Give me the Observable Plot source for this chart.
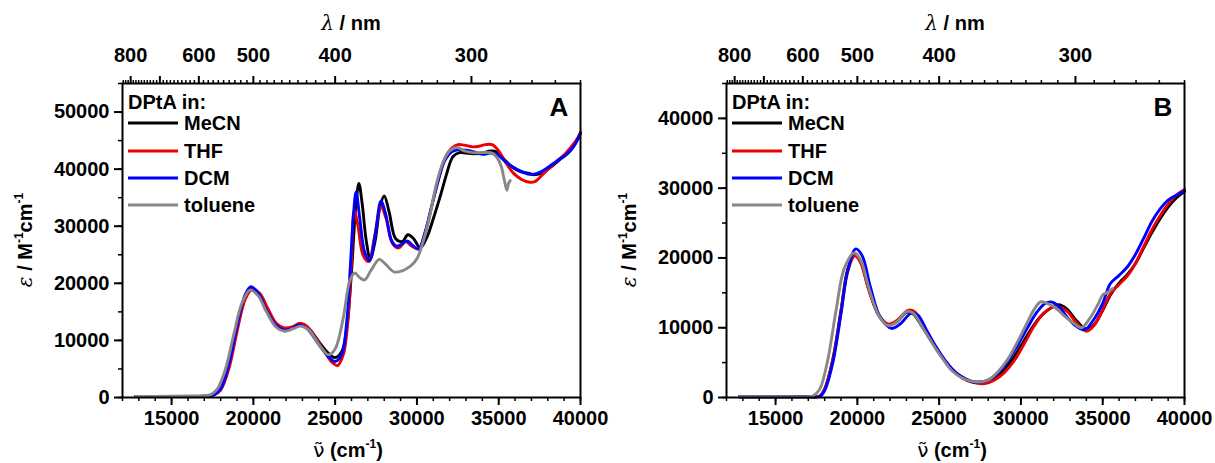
<!DOCTYPE html>
<html><head><meta charset="utf-8">
<script src="https://cdn.jsdelivr.net/npm/d3@7"></script>
<script src="https://cdn.jsdelivr.net/npm/@observablehq/plot@0.6"></script>
<style>
body{margin:0;background:#fff;}
#wrap{position:relative;width:1215px;height:463px;overflow:hidden;background:#fff;}
#wrap svg{position:absolute;top:0;}
</style></head><body><div id="wrap"></div>
<script>
// ---------- categories / colours ----------
const solvents = ["MeCN", "THF", "DCM", "toluene"];
const solventColors = ["#000000", "#ee0000", "#0000ff", "#888888"];
const panelLetters = ["A", "B"];

// ---------- axis ticks ----------
const xMajor = [15000, 20000, 25000, 30000, 35000, 40000];
const xMinor = d3.range(12000, 40001, 1000);
const nmMajor = [800, 700, 600, 500, 400, 300];
const nmLabeled = [800, 600, 500, 400, 300];
const nmMinor = d3.range(830, 249, -10);
const yMajorA = [0, 10000, 20000, 30000, 40000, 50000];
const yMajorB = [0, 10000, 20000, 30000, 40000];

// ---------- Panel A data (wavenumber cm-1, epsilon M-1cm-1) ----------
const A_MeCN_x = [12800,14000,16000,17000,17600,18000,18500,19000,19500,19850,20300,20800,21400,21900,22400,22900,23400,24000,24500,25000,25400,25700,26000,26250,26450,26650,26900,27150,27450,27750,28000,28300,28700,29100,29450,29800,30200,30600,31000,31400,31800,32200,32600,33000,33500,34000,34500,34900,35300,35800,36300,36800,37200,37700,38200,38700,39200,39600,40000];
const A_MeCN_y = [200,200,200,250,500,1500,5500,12000,17500,18800,18000,15500,12800,11900,12200,12700,12000,9800,8000,7000,8000,12000,22000,33000,37500,34000,27500,24300,27500,33500,35300,32500,27800,27300,28500,27800,26200,28000,31300,35000,39000,42200,42900,42800,42700,42800,43200,43000,41800,40400,39600,39300,39000,39400,40400,41600,42700,44100,46400];

const A_THF_x = [12800,14000,16000,17000,17600,18000,18500,19000,19500,19950,20400,20900,21400,21900,22400,22850,23300,23900,24400,24800,25150,25500,25800,26000,26170,26400,26700,27050,27400,27800,28100,28500,28900,29300,29700,30100,30500,30900,31300,31700,32100,32500,32900,33400,33800,34200,34600,35000,35400,35900,36400,36900,37200,37600,38100,38600,39100,39600,40000];
const A_THF_y = [200,200,200,250,450,1300,5000,11500,17200,19000,18200,15500,13000,12200,12400,13000,12400,10000,7800,6200,5600,7500,14000,24000,32800,30000,25000,23800,28000,33400,31500,27000,26200,27300,26500,26000,28800,33500,38000,41800,43600,44300,44200,43900,44000,44300,44300,43200,41300,39300,38200,37700,37800,38800,40200,41500,42800,44500,46300];

const A_DCM_x = [12800,14000,16000,17000,17600,18000,18500,19000,19500,19850,20300,20800,21400,21900,22400,22800,23300,23900,24400,25000,25400,25700,25950,26120,26280,26500,26800,27100,27450,27800,28100,28450,28750,29050,29400,29750,30100,30500,30900,31300,31700,32100,32500,33000,33500,34000,34500,34950,35400,35800,36300,36900,37300,37800,38300,38800,39300,39700,40000];
const A_DCM_y = [200,200,200,250,500,1500,5800,12500,18000,19400,18300,15300,12600,11800,12100,12700,12000,9700,7800,6300,7500,13000,24000,32000,36000,31500,25500,24000,28500,34400,32000,27500,26500,26800,27400,26600,26000,29000,33500,38000,41500,43000,43400,43300,43000,42600,42800,42500,41300,40500,39700,39100,39200,39900,40900,41900,43000,44500,46300];

const A_tol_x = [12800,14000,16000,17000,17400,17800,18300,18800,19300,19800,20300,20800,21400,21900,22400,22900,23400,24000,24600,25000,25500,25900,26200,26500,26800,27200,27700,28100,28600,29100,29600,30000,30400,30800,31200,31600,32000,32450,32900,33400,34000,34600,34900,35150,35350,35500,35600,35700];
const A_tol_y = [200,200,250,300,500,1500,5000,11000,16500,18800,17800,15000,12300,11600,12000,12500,11800,9300,7500,8500,14000,20500,21800,21000,20600,22300,24200,23300,22000,22200,23000,24300,27500,32000,37500,41200,43200,43800,43200,42900,42900,42800,42000,40500,38000,36300,37500,38000];

// ---------- Panel B data ----------
const B_MeCN_x = [12800,14000,16000,17000,17700,18000,18500,19000,19400,19850,20200,20700,21300,21900,22400,23000,23400,24000,24600,25200,25800,26400,27000,27600,28200,28800,29400,30000,30600,31200,31800,32300,32800,33400,34000,34500,35000,35500,36000,36500,37000,37500,38000,38500,39000,39500,40000];
const B_MeCN_y = [100,100,100,100,200,1200,5500,12500,18300,20600,19500,15500,11800,10400,10800,12200,12000,10000,7800,5700,4000,2900,2300,2200,2600,3600,5200,7400,9700,11600,12800,13300,12700,11000,9800,10500,12500,14800,16400,17600,19200,21400,23600,25600,27300,28600,29500];

const B_THF_x = [12800,14000,16000,17000,17700,18000,18500,19000,19400,19850,20200,20700,21300,21900,22400,23100,23500,24000,24600,25200,25800,26400,27000,27800,28400,29000,29600,30200,30800,31400,31900,32300,32800,33400,34000,34500,35000,35500,36000,36500,37000,37500,38000,38500,39000,39500,40000];
const B_THF_y = [100,100,100,100,200,1200,5300,12300,18000,20300,19300,15400,11900,10500,11000,12500,12300,10300,8000,5800,4000,2800,2200,2000,2500,3600,5300,7700,10200,12100,12900,13000,12400,10700,9500,10400,12600,15000,16200,17400,19200,21600,24000,26000,27700,29000,29800];

const B_DCM_x = [12800,14000,16000,17000,17700,18000,18500,19000,19400,19900,20300,20800,21400,22100,22600,23300,23700,24200,24800,25400,26000,26600,27100,27400,28000,28600,29200,29800,30400,31000,31500,31850,32300,32900,33400,33900,34400,35000,35460,36000,36500,37000,37500,38000,38500,39000,39500,40000];
const B_DCM_y = [100,100,100,100,150,1000,5000,12000,18000,21300,20300,15800,11500,9900,10500,12100,11800,9800,7300,5200,3600,2700,2200,2200,2500,3500,5200,7500,10000,12300,13500,13700,13100,11300,10200,9700,11000,13500,16300,17500,18700,20500,22800,25200,27000,28300,29000,29600];

const B_tol_x = [12800,14000,16000,17000,17300,17700,18200,18700,19200,19800,20200,20700,21300,21900,22400,23000,23400,24000,24600,25200,25800,26400,27000,27400,28000,28600,29200,29800,30400,30800,31200,31600,32100,32700,33200,33700,34200,34700,35000,35300,35600];
const B_tol_y = [100,100,100,100,250,1200,5500,12500,18500,20700,19700,15700,11800,10300,10800,12300,12100,10000,7700,5600,3800,2800,2300,2200,2500,3700,5500,8000,10800,12600,13700,13500,12900,11600,10700,10000,11300,13300,14700,15100,15600];

const panelData = [
  [[A_MeCN_x, A_MeCN_y], [A_THF_x, A_THF_y], [A_DCM_x, A_DCM_y], [A_tol_x, A_tol_y]],
  [[B_MeCN_x, B_MeCN_y], [B_THF_x, B_THF_y], [B_DCM_x, B_DCM_y], [B_tol_x, B_tol_y]]
];
const panelYMax = [55000, 45000];
const panelYMajor = [yMajorA, yMajorB];
const panelYMinor = [d3.range(0, 55001, 5000), d3.range(0, 45001, 5000)];

const FONT = '"Liberation Sans", Arial, Helvetica, sans-serif';
const wrap = document.getElementById("wrap");
const panelLeft = [0, 604];
const panelWidth = [604, 611];
const FL = 122, FW = 458, FT = 83, FB = 397;

function makePanel(p) {
  const rows = [];
  panelData[p].forEach((s, k) => s[0].forEach((x, i) => rows.push({solvent: solvents[k], nu: x, eps: s[1][i]})));
  const W = panelWidth[p];
  const common = {fontSize: 20, fontWeight: "bold", label: null};
  const svg = Plot.plot({
    width: W, height: 463,
    marginLeft: FL, marginRight: W - FL - FW, marginTop: FT, marginBottom: 463 - FB,
    style: {fontFamily: FONT, fontSize: "20px", fontWeight: "bold", background: "transparent", color: "black", overflow: "visible"},
    x: {domain: [12000, 40000]},
    y: {domain: [0, panelYMax[p]]},
    color: {domain: solvents, range: solventColors},
    marks: [
      Plot.line(rows, {x: "nu", y: "eps", z: "solvent", stroke: "solvent", strokeWidth: 2.9, curve: "catmull-rom"}),
      Plot.frame({stroke: "black", strokeWidth: 2}),
      Plot.axisX({...common, anchor: "bottom", ticks: xMajor, tickSize: 8, tickPadding: 5, strokeWidth: 2, tickFormat: d => String(d)}),
      Plot.axisX({...common, anchor: "bottom", ticks: xMinor, tickSize: 4, strokeWidth: 1.5, tickFormat: () => ""}),
      Plot.axisX({...common, anchor: "top", ticks: nmMajor.map(n => 1e7 / n), tickSize: 8, tickPadding: 14, strokeWidth: 2,
        tickFormat: d => { const n = Math.round(1e7 / d); return nmLabeled.includes(n) ? String(n) : ""; }}),
      Plot.axisX({...common, anchor: "top", ticks: nmMinor.filter(n => !nmMajor.includes(n)).map(n => 1e7 / n), tickSize: 4, strokeWidth: 1.5, tickFormat: () => ""}),
      Plot.axisY({...common, anchor: "left", ticks: panelYMajor[p], tickSize: 8, tickPadding: 5, strokeWidth: 2, tickFormat: d => String(d)}),
      Plot.axisY({...common, anchor: "left", ticks: panelYMinor[p], tickSize: 4, strokeWidth: 1.5, tickFormat: () => ""})
    ]
  });
  svg.style.left = panelLeft[p] + "px";
  const s = d3.select(svg);
  const g = s.append("g").attr("font-family", FONT).attr("font-weight", "bold").attr("fill", "black").attr("text-anchor", "start");
  // top title
  const t1 = g.append("text").attr("x", FL + FW / 2).attr("y", 30).attr("text-anchor", "middle").attr("font-size", 20);
  t1.append("tspan").attr("font-style", "italic").attr("font-weight", "normal").attr("font-family", '"DejaVu Serif", serif').text("λ");
  t1.append("tspan").text(" / nm");
  // bottom title
  const t2 = g.append("text").attr("x", FL + FW / 2 - 3).attr("y", 457).attr("text-anchor", "middle").attr("font-size", 20);
  t2.append("tspan").attr("font-weight", "normal").attr("font-family", '"DejaVu Sans", sans-serif').text("ν̃");
  t2.append("tspan").text("\u00a0(cm");
  t2.append("tspan").attr("font-size", 12).attr("dy", -9).text("-1");
  t2.append("tspan").attr("dy", 9).text(")");
  // y title
  const t3 = g.append("text").attr("transform", `translate(32,${(FT + FB) / 2}) rotate(-90)`).attr("text-anchor", "middle").attr("font-size", 20);
  t3.append("tspan").attr("font-style", "italic").attr("font-weight", "normal").attr("font-family", '"DejaVu Serif", serif').text("ε");
  t3.append("tspan").text("\u00a0/ M");
  t3.append("tspan").attr("font-size", 12).attr("dy", -9).text("-1");
  t3.append("tspan").attr("dy", 9).text("cm");
  t3.append("tspan").attr("font-size", 12).attr("dy", -9).text("-1");
  // panel letter
  g.append("text").attr("x", FL + FW - 21).attr("y", 116).attr("text-anchor", "middle").attr("font-size", 26).text(panelLetters[p]);
  // legend
  g.append("text").attr("x", FL + 6).attr("y", 109).attr("font-size", 20).text("DPtA in:");
  const ly = [123, 151, 178, 205];
  solvents.forEach((name, k) => {
    g.append("line").attr("x1", FL + 6).attr("x2", FL + 56).attr("y1", ly[k]).attr("y2", ly[k])
      .attr("stroke", solventColors[k]).attr("stroke-width", 3);
    g.append("text").attr("x", FL + 62).attr("y", ly[k] + 7).attr("font-size", 20).text(name);
  });
  wrap.appendChild(svg);
}
makePanel(0);
makePanel(1);
</script>
</body></html>
